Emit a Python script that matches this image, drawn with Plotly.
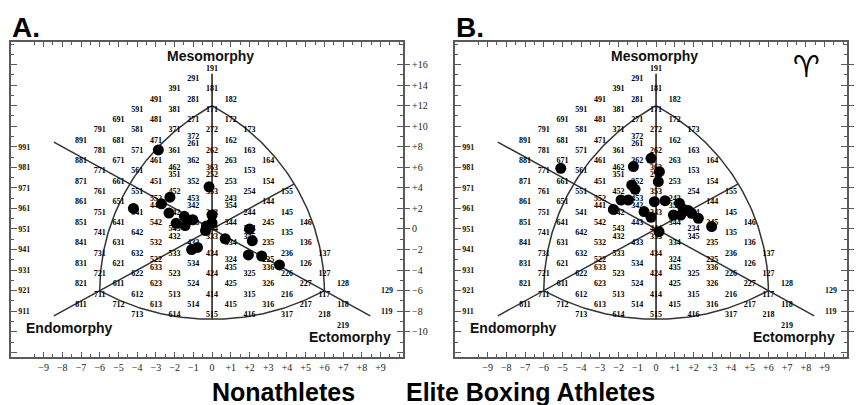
import numpy as np
import plotly.graph_objects as go

# ---------------- data ----------------
# somatotype codes printed on the somatochart (endo-meso-ecto digits)
CHART_CODES = [
    "891", "881", "871", "861", "851", "841", "831", "821", "811",
    "791", "781", "771", "761", "751", "741", "731", "721", "711",
    "691", "681", "671", "661", "651", "641", "631", "621", "611", "712",
    "591", "581", "571", "561", "551", "541", "642", "632", "622", "612", "713",
    "491", "481", "471", "461", "451", "552", "441", "542", "532", "522", "633", "623", "613",
    "391", "381", "371", "361", "462", "351", "452", "442", "543", "432", "533", "523", "513", "614",
    "291", "281", "271", "372", "261", "362", "352", "453", "342", "443", "433", "534", "524", "514",
    "191", "181", "171", "272", "262", "363", "252", "353", "343", "444", "333", "434", "424", "414", "515",
    "182", "172", "162", "263", "253", "243", "354", "344", "334", "324", "435", "425", "415",
    "173", "163", "153", "254", "244", "234", "345", "325", "315", "416",
    "164", "154", "144", "245", "235", "225", "336", "326", "316",
    "155", "145", "135", "236", "226", "216", "317",
    "146", "136", "126", "227", "217",
    "137", "127", "117", "218",
    "128", "118", "219",
]
LEFT_AXIS_VALS = [-8, -6, -4, -2, 0, 2, 4, 6, 8]
LEFT_AXIS_TEXT = ["911", "921", "931", "941", "951", "961", "971", "981", "991"]
RIGHT_AXIS_VALS = [-10, -8, -6, -4, -2, 0, 2, 4, 6, 8, 10, 12, 14, 16]
RIGHT_AXIS_TEXT = ["−10", "−8", "−6", "−4", "−2", "0", "+2", "+4", "+6", "+8",
                   "+10", "+12", "+14", "+16"]
X_TICK_VALS = list(range(-9, 10))
X_TICK_TEXT = ["−9", "−8", "−7", "−6", "−5", "−4", "−3", "−2", "−1", "0",
               "+1", "+2", "+3", "+4", "+5", "+6", "+7", "+8", "+9"]
EDGE_CODES = ["129", "119"]
EDGE_Y = [-6, -8]

# somatopoints (X, Y)
NON_X = [-2.87, -0.16, -2.25, -2.70, -4.20, -2.30, -1.48, -1.03, -1.92, -1.44, 0.00,
         0.00, -0.30, -0.35, 2.00, 0.70, 2.15, -1.09, -0.78, 1.94, 2.65, 3.60]
NON_Y = [7.70, 4.10, 3.10, 2.45, 2.00, 1.55, 1.23, 0.90, 0.55, 0.33, 1.36,
         0.60, 0.30, -0.15, 0.00, -0.95, -1.15, -2.00, -1.80, -2.53, -2.63, -3.50]
BOX_X = [-5.09, -0.27, -1.21, 0.18, 0.12, -1.30, -1.12, -1.87, -1.48, -2.28, -0.64, -0.27,
         -0.09, 0.48, 1.25, 1.46, 1.73, 1.90, 0.93, 1.32, 2.26, 2.97, 0.16]
BOX_Y = [5.90, 6.88, 6.07, 5.58, 4.60, 4.28, 3.86, 2.82, 2.82, 1.90, 1.69, 1.14,
         2.66, 2.76, 2.50, 1.92, 1.79, 1.53, 1.36, 1.36, 1.04, 0.23, -0.26]

# ---------------- helpers ----------------
S3 = np.sqrt(3.0)
LABEL_DY = -0.4     # printed labels sit slightly below their point
PAIR_DY = 0.36      # coinciding codes are stacked


def soma_xy(code):
    i, ii, iii = (int(c) for c in code)
    return iii - i, 2 * ii - i - iii


def label_positions(codes):
    seen = {}
    for c in codes:
        seen.setdefault(soma_xy(c), []).append(c)
    xs, ys, ts = [], [], []
    for c in codes:
        p = soma_xy(c)
        grp = seen[p]
        dy = 0.0
        if len(grp) == 2:
            dy = PAIR_DY if grp[0] == c else -PAIR_DY
        xs.append(p[0])
        ys.append(p[1] + dy + LABEL_DY)
        ts.append(c)
    return xs, ys, ts


def arc(center, p, q, n=90):
    cu, cv = center[0], center[1] / S3
    a1 = np.arctan2(p[1] / S3 - cv, p[0] - cu)
    a2 = np.arctan2(q[1] / S3 - cv, q[0] - cu)
    d = (a2 - a1 + np.pi) % (2 * np.pi) - np.pi
    t = a1 + d * np.linspace(0, 1, n)
    r = np.hypot(p[0] - cu, p[1] / S3 - cv)
    return cu + r * np.cos(t), S3 * (cv + r * np.sin(t))


TOP = soma_xy("171")
LEFT = soma_xy("711")
RIGHT = soma_xy("117")

ax1, ay1 = arc(LEFT, TOP, RIGHT)
ax2, ay2 = arc(TOP, RIGHT, LEFT)
ax3, ay3 = arc(RIGHT, LEFT, TOP)
OUT_X = np.concatenate([ax1, ax2, ax3])
OUT_Y = np.concatenate([ay1, ay2, ay3])

EXT = 8.45
t_end = LEFT[0] + 12 * S3 / 2     # line Y = X ends on the right arc
bottom_y = TOP[1] - 12 * S3

LINE_COL = "#333333"
FRAME_COL = "#5a5a5a"
SERIF = "Liberation Serif, Times New Roman, serif"
SANS = "Liberation Sans, Arial, sans-serif"

# page has an 8px body margin: lay out in a 856x397 figure
OFF = 8
W, H = 864 - OFF, 405 - OFF


def px(xp):
    return (xp - OFF) / W


def py(yp):
    return 1 - (yp - OFF) / H


fig = go.Figure()

LX, LY, LT = label_positions(CHART_CODES)

panels = [("x", "y", NON_X, NON_Y), ("x2", "y3", BOX_X, BOX_Y)]
for xa, ya, dx, dy in panels:
    common = dict(xaxis=xa, yaxis=ya, hoverinfo="skip", showlegend=False)
    fig.add_trace(go.Scatter(x=OUT_X, y=OUT_Y, mode="lines",
                             line=dict(color=LINE_COL, width=1.5), **common))
    fig.add_trace(go.Scatter(x=[-EXT, t_end], y=[-EXT, t_end], mode="lines",
                             line=dict(color=LINE_COL, width=1.5), **common))
    fig.add_trace(go.Scatter(x=[-EXT, EXT], y=[EXT, -EXT], mode="lines",
                             line=dict(color=LINE_COL, width=1.5), **common))
    fig.add_trace(go.Scatter(x=[0, 0], y=[15.1, bottom_y], mode="lines",
                             line=dict(color=LINE_COL, width=1.7), **common))
    fig.add_trace(go.Scatter(x=LX, y=LY, mode="text", text=LT,
                             textfont=dict(family=SERIF, size=8, color="#000", weight="bold"),
                             **common))
    fig.add_trace(go.Scatter(x=dx, y=dy, mode="markers",
                             marker=dict(size=11, color="black"), **common))

XR = [-10.74, 10.2]
YR = [-12.46, 18.2]
XD1 = [px(11), px(403)]
XD2 = [px(455), px(847)]
YD = [py(357), py(42)]

xcommon = dict(range=XR, tickmode="array", tickvals=X_TICK_VALS, ticktext=X_TICK_TEXT,
               ticks="inside", ticklen=5, tickcolor=FRAME_COL, tickwidth=1,
               minor=dict(ticks="inside", ticklen=3, dtick=0.5, tick0=0, tickcolor=FRAME_COL),
               showline=True, linecolor=FRAME_COL, linewidth=1.5, mirror="ticks",
               showgrid=False, zeroline=False, automargin=False,
               tickfont=dict(family=SERIF, size=10, color="#222"))
left_vals = [-12, -10] + LEFT_AXIS_VALS + [10, 12, 14, 16]
left_text = ["", ""] + LEFT_AXIS_TEXT + ["", "", "", ""]
ycommon = dict(range=YR, domain=YD, tickmode="array", tickvals=left_vals, ticktext=left_text,
               ticks="inside", ticklen=6, tickcolor=FRAME_COL, ticklabelposition="inside",
               minor=dict(ticks="inside", ticklen=3, dtick=1, tick0=0, tickcolor=FRAME_COL),
               showline=True, linecolor=FRAME_COL, linewidth=1.5, mirror="ticks",
               showgrid=False, zeroline=False, automargin=False,
               tickfont=dict(family=SERIF, size=8, color="#111", weight="bold"))
rcommon = dict(range=YR, tickmode="array", tickvals=RIGHT_AXIS_VALS, ticktext=RIGHT_AXIS_TEXT,
               side="right", ticks="outside", ticklen=6, tickcolor=FRAME_COL,
               showline=False, showgrid=False, zeroline=False, automargin=False,
               tickfont=dict(family=SERIF, size=10, color="#222"))

fig.update_layout(
    width=W, height=H, margin=dict(l=0, r=0, t=0, b=0),
    template="none", paper_bgcolor="white", plot_bgcolor="white", showlegend=False,
    xaxis=dict(domain=XD1, anchor="y", **xcommon),
    yaxis=dict(anchor="x", **ycommon),
    yaxis2=dict(overlaying="y", anchor="x", **rcommon),
    xaxis2=dict(domain=XD2, anchor="y3", **xcommon),
    yaxis3=dict(anchor="x2", **ycommon),
    yaxis4=dict(overlaying="y3", anchor="x2", **rcommon),
)
fig.add_trace(go.Scatter(x=[None], y=[None], xaxis="x", yaxis="y2", showlegend=False))
fig.add_trace(go.Scatter(x=[None], y=[None], xaxis="x2", yaxis="y4", showlegend=False))

ann = []
for xr, yr, dref in [("x", "y", "x domain"), ("x2", "y3", "x2 domain")]:
    ann.append(dict(xref=xr, yref=yr, x=-0.1, y=16.8, text="<b>Mesomorphy</b>", showarrow=False,
                    font=dict(family=SANS, size=14, color="#111")))
    ann.append(dict(xref=xr, yref=yr, x=-7.6, y=-9.65, text="<b>Endomorphy</b>", showarrow=False,
                    font=dict(family=SANS, size=14, color="#111")))
    ann.append(dict(xref=xr, yref=yr, x=7.35, y=-10.55, text="<b>Ectomorphy</b>", showarrow=False,
                    font=dict(family=SANS, size=14, color="#111")))
    for t, yv in zip(EDGE_CODES, EDGE_Y):
        ann.append(dict(xref=dref, yref=yr, x=1, y=yv, xanchor="right", xshift=-8, text=t,
                        showarrow=False, font=dict(family=SERIF, size=8, color="#111", weight="bold")))

ann.append(dict(xref="paper", yref="paper", x=px(10), y=py(10), xanchor="left", yanchor="top",
                text="<b>A.</b>", showarrow=False, font=dict(family=SANS, size=28, color="black")))
ann.append(dict(xref="paper", yref="paper", x=px(454), y=py(10), xanchor="left", yanchor="top",
                text="<b>B.</b>", showarrow=False, font=dict(family=SANS, size=28, color="black")))
ann.append(dict(xref="paper", yref="paper", x=px(210), y=py(392), yanchor="middle",
                text="<b>Nonathletes</b>", showarrow=False, font=dict(family=SANS, size=25, color="black")))
ann.append(dict(xref="paper", yref="paper", x=px(657), y=py(392), yanchor="middle",
                text="<b>Elite Boxing Athletes</b>", showarrow=False,
                font=dict(family=SANS, size=25, color="black")))
ann.append(dict(xref="paper", yref="paper", x=px(822), y=py(66), yanchor="middle",
                text="<b>♈</b>", showarrow=False, font=dict(family="DejaVu Sans", size=30, color="black")))
fig.update_layout(annotations=ann)

fig.write_html("out.html")
